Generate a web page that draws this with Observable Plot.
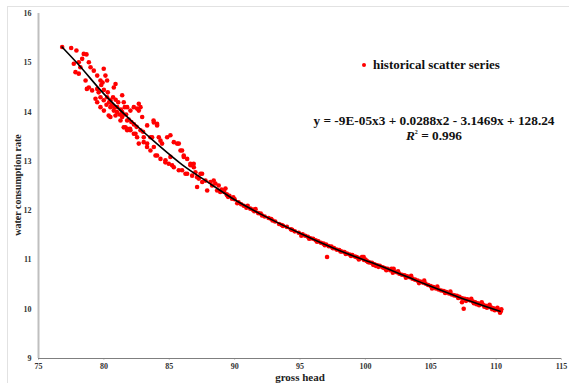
<!DOCTYPE html>
<html>
<head>
<meta charset="utf-8">
<script src="https://cdn.jsdelivr.net/npm/d3@7"></script>
<script src="https://cdn.jsdelivr.net/npm/@observablehq/plot@0.6"></script>
<style>
  body { margin: 0; background: #fff; }
  #wrap { position: relative; width: 569px; height: 383px; overflow: hidden; font-family: "Liberation Serif", "DejaVu Serif", serif; }
  #wrap svg { position: absolute; left: 0; top: 0; }
  .frame { position: absolute; left: 7px; top: 6px; width: 570px; height: 390px; border-left: 1px solid #e2e2e2; border-top: 1px solid #e2e2e2; pointer-events: none; }
  .legend { position: absolute; left: 362px; top: 57px; font-weight: bold; font-size: 13px; color: #111; white-space: nowrap; }
  .legend .dot { display: inline-block; width: 4px; height: 4px; border-radius: 50%; background: #ff0000; margin-right: 7px; vertical-align: middle; position: relative; top: -1px; }
  .eq { position: absolute; left: 304px; width: 260px; text-align: center; font-weight: bold; font-size: 13.3px; color: #111; white-space: nowrap; }
  .eq sup { font-size: 6px; vertical-align: 6px; }
  .ylab { position: absolute; left: 17px; top: 185px; transform: translate(-50%, -50%) rotate(-90deg); font-weight: bold; font-size: 10px; color: #222; white-space: nowrap; }
  .xlab { position: absolute; left: 300px; top: 377px; transform: translate(-50%, -50%); font-weight: bold; font-size: 11px; color: #222; white-space: nowrap; line-height: 11px; }
</style>
</head>
<body>
<div id="wrap">
  <div class="frame"></div>
  <div class="legend"><span class="dot"></span>historical scatter series</div>
  <div class="eq" style="top:113px">y = -9E-05x3 + 0.0288x2 - 3.1469x + 128.24</div>
  <div class="eq" style="top:128px"><i>R</i><sup>2</sup> = 0.996</div>
  <div class="ylab">water consumption rate</div>
  <div class="xlab">gross head</div>
</div>
<script>
const xTicks = [75, 80, 85, 90, 95, 100, 105, 110, 115];
const yTicks = [9, 10, 11, 12, 13, 14, 15, 16];

// historical scatter series: gross head (x) and water consumption rate (y)
const grossHead = [
  76.81, 77.5, 77.9, 78.46, 78.67, 78.34, 78.08, 78.2, 77.83, 78.08,
  78.85, 78.98, 79.23, 79.49, 79.99, 79.74, 80.12, 80.25, 78.85, 79.1,
  79.49, 79.74, 79.99, 80.25, 80.5, 80.76, 80.89, 80.5, 80.76, 81.02,
  81.4, 81.52, 81.78, 82.03, 82.29, 82.54, 82.8, 82.93, 83.8, 84.07,
  83.31, 80.5, 80.89, 81.27, 81.65, 82.0, 77.7, 78.6, 78.7, 79.36,
  79.49, 79.74, 80.0, 80.37, 81.52, 81.78, 82.29, 82.54, 82.67, 83.3,
  83.56, 84.07, 84.33, 84.7, 84.96, 85.35, 85.98, 86.37, 86.75, 87.13,
  84.84, 85.35, 85.6, 85.86, 86.11, 86.37, 86.62, 86.88, 83.56, 83.05,
  82.8, 82.03, 82.67, 82.67, 81.4, 81.78, 81.78, 82.42, 83.05, 83.31,
  83.69, 84.2, 84.33, 84.45, 85.09, 85.73, 83.82, 83.95, 84.71, 85.09,
  85.22, 85.73, 85.98, 86.11, 86.62, 87.0, 87.39, 87.26, 87.52, 87.77,
  88.15, 88.28, 88.66, 88.9, 89.43, 86.24, 87.13, 87.9, 86.87, 87.51,
  88.4, 88.53, 88.78, 89.17, 80.2, 80.4, 80.6, 80.8, 81.0, 81.2,
  81.1, 80.9, 80.7, 81.3, 81.5, 81.6, 81.9, 82.1, 82.3, 80.3,
  80.0, 79.8, 79.6, 79.9, 84.07, 83.82, 81.4, 81.7, 82.5, 83.0,
  89.0, 89.2, 89.4, 89.6, 89.8, 90.0, 90.3, 90.5, 90.7, 91.0,
  91.2, 91.5, 91.8, 92.0, 92.3, 92.6, 92.9, 93.1, 93.4, 93.7,
  94.0, 94.3, 94.6, 94.9, 95.2, 95.4, 95.6, 95.8, 96.0, 96.2,
  96.4, 96.6, 96.8, 97.0, 97.07, 97.2, 97.4, 97.6, 97.8, 98.0,
  98.2, 98.4, 98.6, 98.8, 99.0, 99.2, 99.4, 99.6, 99.74, 99.9,
  100.1, 100.3, 100.5, 100.7, 100.9, 101.1, 101.3, 101.5, 101.7, 101.9,
  102.0, 102.2, 102.4, 102.6, 102.8, 103.0, 103.2, 103.4, 103.6, 103.8,
  104.0, 104.2, 104.4, 104.6, 104.8, 105.0, 105.2, 105.4, 105.6, 105.8,
  106.0, 106.2, 106.4, 106.6, 106.8, 107.0, 107.2, 107.4, 107.39, 107.52,
  107.6, 107.8, 108.0, 108.2, 108.4, 108.6, 108.8, 109.0, 109.2, 109.4,
  109.6, 109.8, 110.0, 110.2, 110.35, 99.5, 100.0, 100.6, 101.0, 101.6,
  102.1, 102.5, 103.1, 103.5, 104.1, 104.5, 105.1, 105.5, 106.1, 106.5,
  107.1, 107.7, 108.1, 108.5, 108.9, 109.1, 109.5, 109.9, 110.1, 110.3,
  110.4, 109.7, 109.3, 108.7, 108.3, 89.5, 90.2, 90.9, 91.4, 92.1,
  92.8, 93.6, 94.4, 95.1, 95.7, 96.3, 96.9, 97.5, 98.1, 98.5,
  98.9, 99.3, 100.2, 100.8, 101.4, 89.3, 89.9, 91.6, 99.87, 102.16
];
const waterRate = [
  15.32, 15.30, 15.25, 15.18, 15.17, 15.08, 15.01, 14.91, 14.81, 14.78,
  15.01, 14.91, 14.84, 14.74, 14.88, 14.64, 14.74, 14.64, 14.50, 14.44,
  14.47, 14.30, 14.24, 14.30, 14.24, 14.50, 14.57, 14.10, 14.03, 14.10,
  14.34, 14.20, 14.10, 14.03, 14.10, 14.07, 14.10, 13.90, 13.83, 13.76,
  13.73, 13.90, 13.93, 13.83, 13.69, 13.66, 14.98, 14.64, 14.47, 14.27,
  14.20, 14.10, 14.03, 13.93, 13.69, 13.63, 13.56, 13.49, 13.36, 13.29,
  13.22, 13.12, 13.05, 12.98, 12.95, 12.88, 12.82, 12.75, 12.71, 12.68,
  13.49, 13.39, 13.36, 13.22, 13.09, 13.05, 12.95, 12.88, 13.49, 13.49,
  13.63, 13.63, 14.03, 14.17, 13.90, 13.83, 13.66, 13.56, 13.39, 13.36,
  13.49, 13.49, 13.42, 13.36, 13.53, 13.36, 13.29, 13.12, 13.02, 13.09,
  12.92, 12.82, 13.22, 13.12, 12.92, 12.78, 12.75, 12.65, 12.58, 12.61,
  12.58, 12.51, 12.41, 12.38, 12.31, 12.75, 12.48, 12.41, 12.95, 12.75,
  12.61, 12.55, 12.51, 12.41, 14.15, 14.20, 14.15, 14.10, 14.00, 13.95,
  14.20, 14.25, 14.30, 14.05, 13.95, 14.10, 13.85, 13.80, 13.75, 14.40,
  14.45, 14.55, 14.40, 14.60, 13.73, 13.79, 14.00, 13.95, 13.70, 13.60,
  12.43, 12.38, 12.33, 12.30, 12.24, 12.23, 12.17, 12.13, 12.10, 12.10,
  12.04, 11.99, 11.95, 11.94, 11.88, 11.85, 11.80, 11.78, 11.73, 11.69,
  11.67, 11.62, 11.58, 11.55, 11.52, 11.49, 11.47, 11.44, 11.43, 11.40,
  11.38, 11.35, 11.33, 11.31, 11.06, 11.28, 11.27, 11.24, 11.21, 11.20,
  11.17, 11.16, 11.13, 11.11, 11.10, 11.07, 11.05, 11.03, 11.06, 11.00,
  10.98, 10.95, 10.94, 10.91, 10.89, 10.88, 10.85, 10.83, 10.82, 10.79,
  10.82, 10.77, 10.75, 10.72, 10.70, 10.69, 10.67, 10.65, 10.62, 10.60,
  10.58, 10.56, 10.54, 10.52, 10.49, 10.47, 10.45, 10.42, 10.40, 10.38,
  10.37, 10.35, 10.32, 10.30, 10.28, 10.27, 10.25, 10.22, 10.14, 10.01,
  10.21, 10.20, 10.18, 10.16, 10.14, 10.12, 10.11, 10.09, 10.07, 10.06,
  10.04, 10.02, 10.00, 9.98, 9.96, 11.01, 11.01, 10.90, 10.86, 10.79,
  10.74, 10.77, 10.64, 10.68, 10.53, 10.58, 10.42, 10.46, 10.33, 10.36,
  10.23, 10.17, 10.21, 10.10, 10.14, 10.05, 10.09, 9.98, 10.03, 9.93,
  10.00, 10.00, 10.03, 10.08, 10.12, 12.28, 12.15, 12.06, 12.02, 11.90,
  11.83, 11.71, 11.61, 11.49, 11.43, 11.37, 11.30, 11.24, 11.17, 11.12,
  11.08, 11.06, 10.96, 10.88, 10.84, 12.45, 12.27, 12.03, 11.06, 10.82
];

// polynomial trendline
const trendHead = [76.8, 78, 80, 82, 84, 86, 88, 90, 92, 95, 98, 101, 104, 107, 110.3];
const trendRate = [15.32, 14.98, 14.37, 13.85, 13.37, 12.93, 12.57, 12.22, 11.93, 11.54, 11.19, 10.89, 10.57, 10.26, 9.96];

const points = grossHead.map((h, i) => ({head: h, rate: waterRate[i]}));
const trend = trendHead.map((h, i) => ({head: h, rate: trendRate[i]}));

const chart = Plot.plot({
  width: 569,
  height: 383,
  marginLeft: 38,
  marginRight: 8,
  marginTop: 13,
  marginBottom: 25,
  style: {fontFamily: "'Liberation Serif', 'DejaVu Serif', serif", fontWeight: "bold", fontSize: "8px", color: "#333", background: "transparent"},
  x: {domain: [75, 115]},
  y: {domain: [9, 16]},
  marks: [
    Plot.axisX({ticks: xTicks, tickSize: 2, tickPadding: 3, tickFormat: d => String(d), label: null, stroke: "#cccccc"}),
    Plot.axisY({ticks: yTicks, tickSize: 0, tickPadding: 7, tickFormat: d => String(d), label: null}),
    Plot.ruleY([9], {stroke: "#7f7f7f", strokeWidth: 1}),
    Plot.ruleX([75], {stroke: "#bfbfbf", strokeWidth: 2}),
    Plot.dot(points, {x: "head", y: "rate", r: 2.3, fill: "#ff0000", stroke: "none"}),
    Plot.line(trend, {x: "head", y: "rate", stroke: "#000", strokeWidth: 1.6, curve: "monotone-x"})
  ]
});
document.getElementById("wrap").prepend(chart);
</script>
</body>
</html>
